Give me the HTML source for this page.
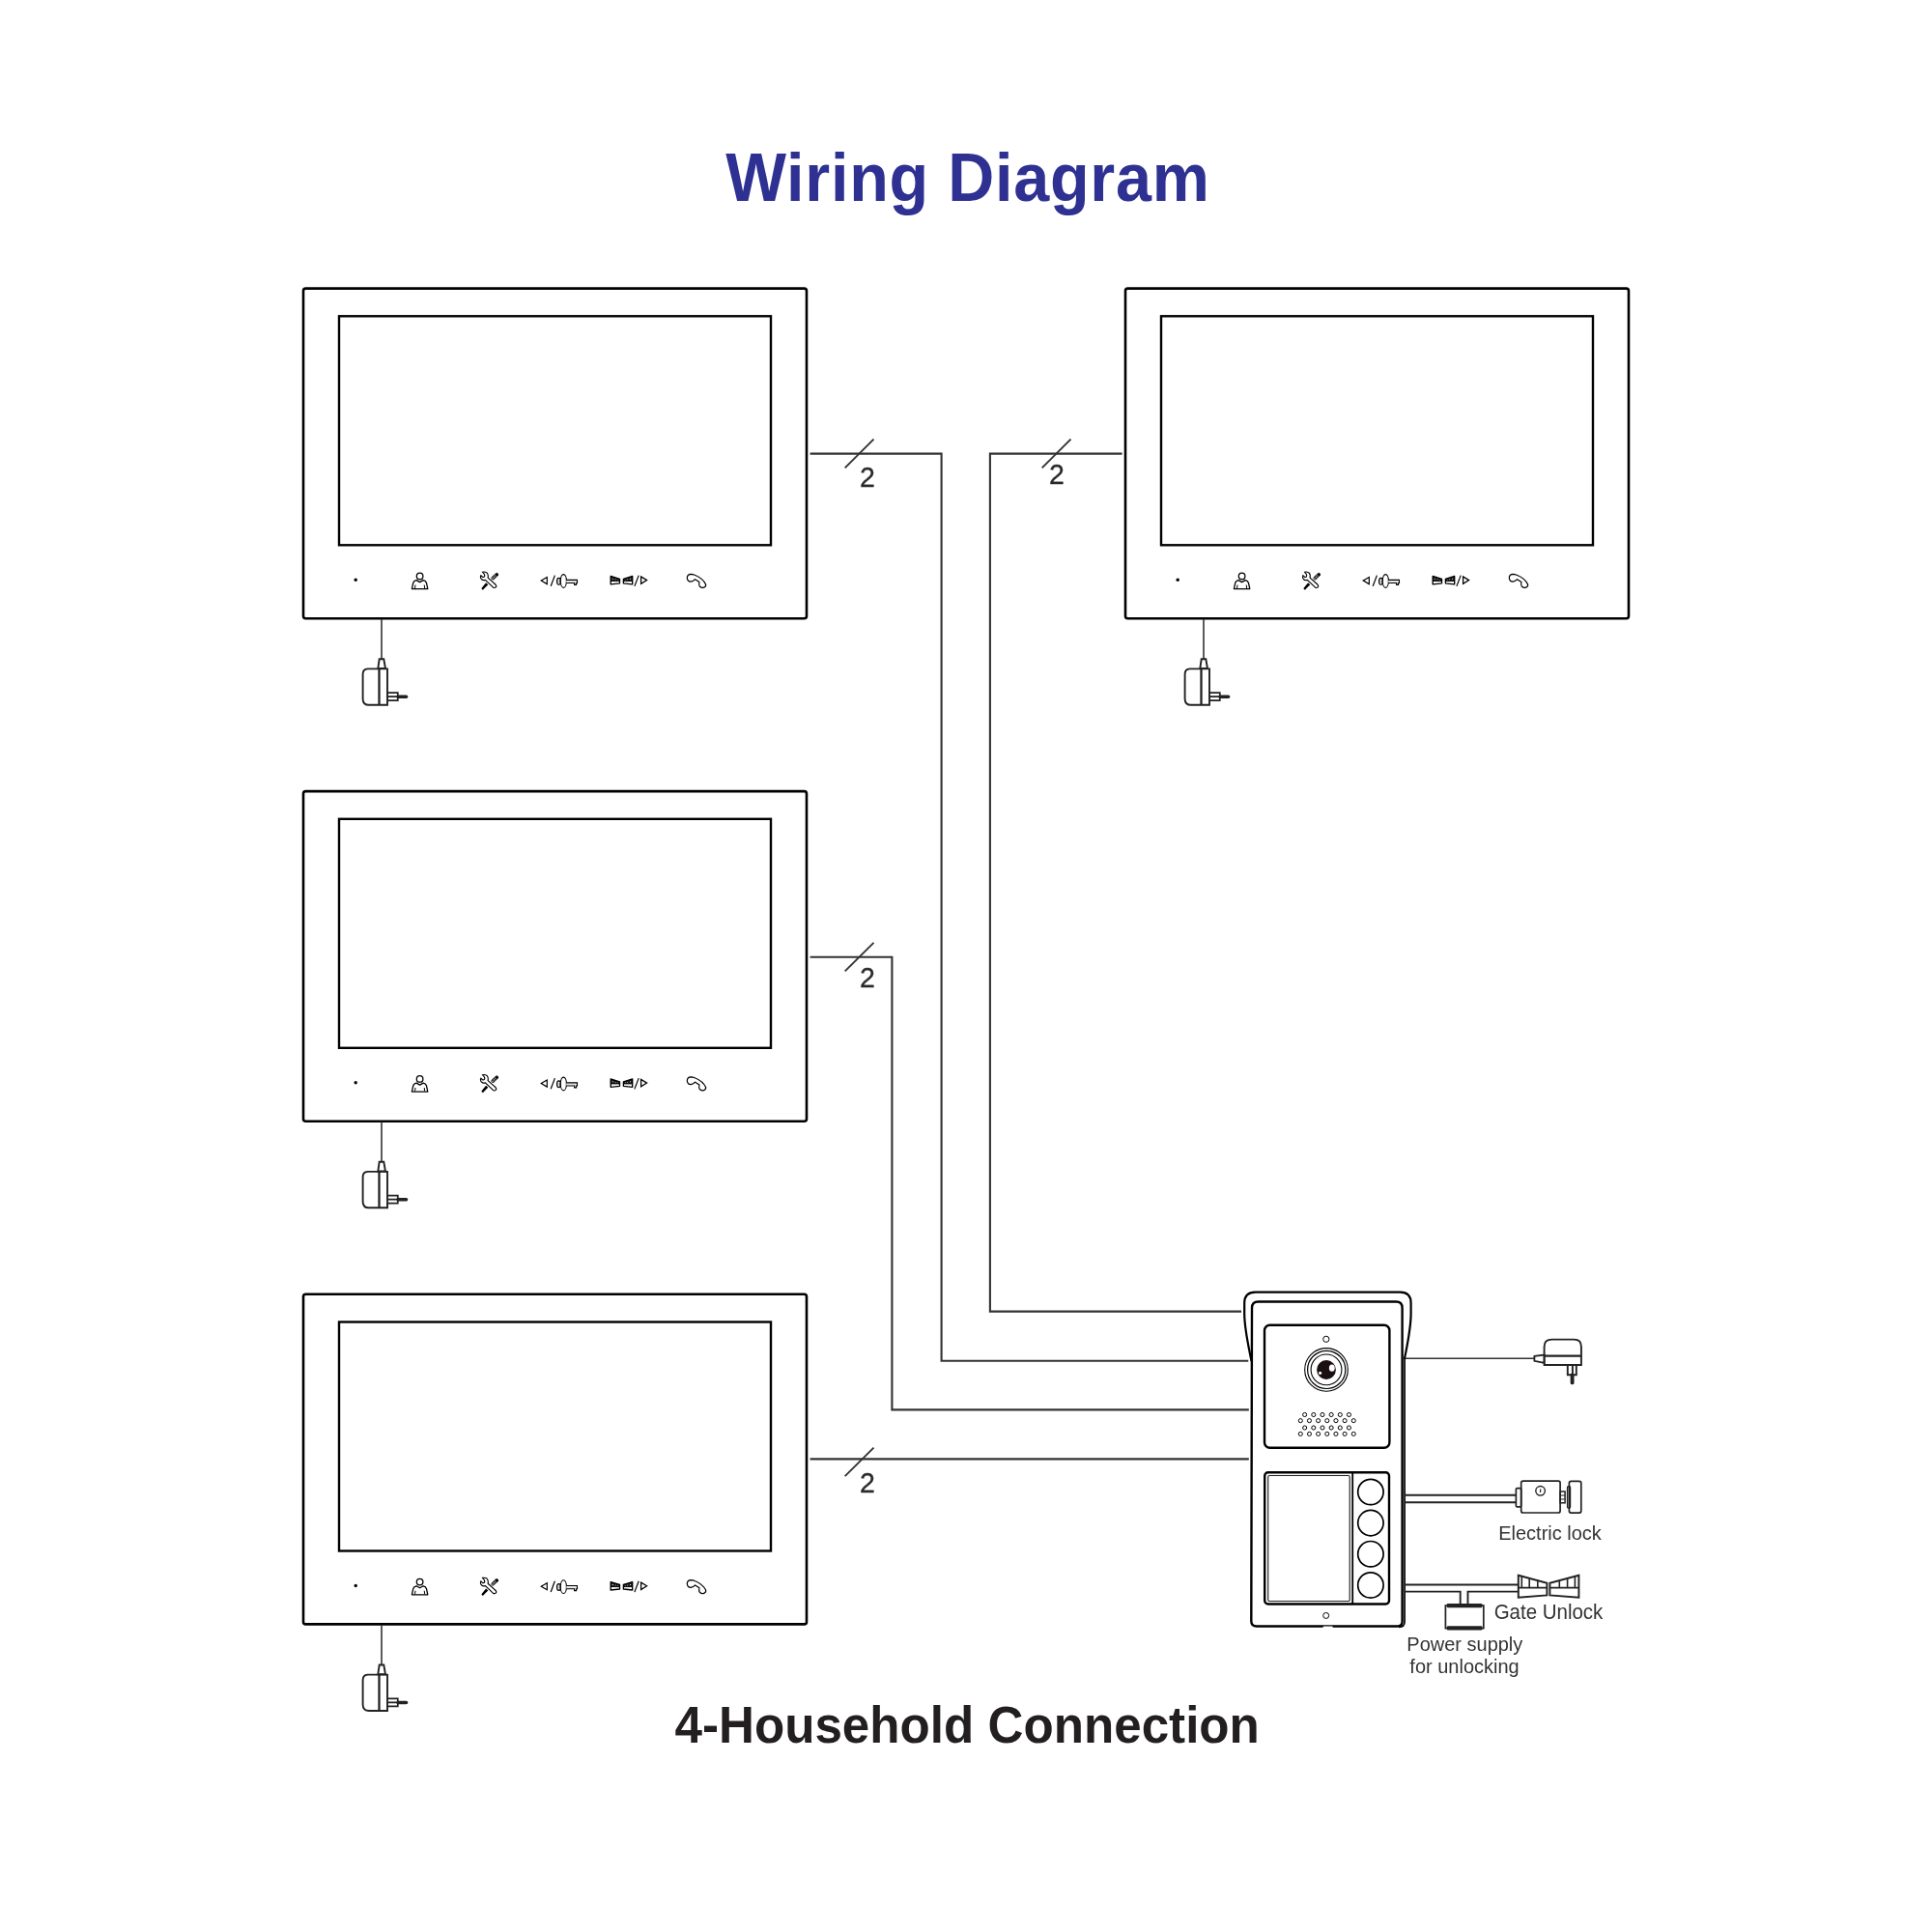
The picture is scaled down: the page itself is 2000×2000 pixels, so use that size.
<!DOCTYPE html>
<html><head><meta charset="utf-8"><title>Wiring Diagram</title>
<style>html,body{margin:0;padding:0;background:#fff;width:2000px;height:2000px;overflow:hidden;font-family:"Liberation Sans",sans-serif}body{position:relative}</style>
</head><body>
<svg width="2000" height="2000" viewBox="0 0 2000 2000" style="position:absolute;left:0;top:0;will-change:transform">
<defs><g id="mon">
<rect x="314" y="298.6" width="521" height="341.6" rx="2.5" fill="none" stroke="#000" stroke-width="2.6"/>
<rect x="351" y="327.3" width="447" height="237" fill="none" stroke="#000" stroke-width="2.4"/>
<circle cx="368.2" cy="600.3" r="1.7" fill="#000"/>
<circle cx="434.6" cy="596.4" r="3.3" fill="none" stroke="#000" stroke-width="1.3"/>
<path d="M426.4 609.6 L427.8 603.2 Q428.6 601.2 431 600.6 L434.6 602.6 L438.2 600.6 Q440.6 601.2 441.4 603.2 L442.8 609.6 Z" fill="none" stroke="#000" stroke-width="1.3" stroke-linejoin="round"/>
<path d="M430 605.5 L429.5 609 M439.2 605.5 L439.7 609" stroke="#000" stroke-width="1"/>
<path d="M510.2 598.6 L514.2 594.7" stroke="#2a2a2a" stroke-width="3.6" stroke-linecap="round"/>
<path d="M509.6 599.2 L513.2 595.6" stroke="#bbb" stroke-width="1.5" stroke-dasharray="1 1.1"/>
<circle cx="514.4" cy="595" r="1.3" fill="#000"/>
<path d="M498.3 609.3 L499.9 610.8 L502 608.6 L505.3 605.3 L503.1 603.2 L500.6 606.2 Z" fill="#000"/>
<path d="M497.8 595.6 L499.2 597 Q500.4 597.9 501.5 596.8 Q502.3 595.3 500.6 593.4 L499.4 592.2 Q501.8 591.6 504 592.9 Q505.8 594.6 505.1 598.1 L513.1 605.3 Q514.2 606.5 513.4 607.7 Q512.2 609 510.6 608.2 L502.4 600.4 Q500.2 601.2 498.6 599.8 Q496.8 598 497.8 595.6 Z" fill="#fff" stroke="#000" stroke-width="1.15" stroke-linejoin="round"/>
<path d="M560.2 601 L566.3 597.5 L566.3 604.6 Z" fill="none" stroke="#000" stroke-width="1.2" stroke-linejoin="miter"/>
<path d="M570.2 606.8 L574.4 595.6" stroke="#000" stroke-width="1.2"/>
<ellipse cx="578.5" cy="601.8" rx="2.0" ry="3.4" fill="#fff" stroke="#000" stroke-width="1.1"/>
<path d="M577.6 600.2 V603.4" stroke="#888" stroke-width="0.7"/>
<path d="M578.8 599.9 Q581.2 601.8 578.8 603.7 Z" fill="#444"/>
<ellipse cx="583.35" cy="601.45" rx="3.05" ry="6.9" fill="#fff" stroke="#000" stroke-width="1.15"/>
<path d="M586.3 600.35 H597.5 V603.55 H596.6 V605.4 H594.6 V603.55 H586.3" fill="#e6e6e6" stroke="#000" stroke-width="1.1"/>
<path d="M632.2 596.4 L641.5 599.3 V601.4 H632.2 Z" fill="#1a1a1a"/>
<circle cx="634.3000000000001" cy="599.2" r="0.55" fill="#fff"/><circle cx="637.2" cy="599.8" r="0.5" fill="#ddd"/><circle cx="639.5" cy="600.3" r="0.45" fill="#ccc"/>
<path d="M632.2 596.4 L641.5 599.3 V603.8 L632.2 604.8 Z" fill="none" stroke="#000" stroke-width="1.35" stroke-linejoin="round"/>
<path d="M632.2 601.4 H641.5" stroke="#000" stroke-width="1"/>
<path d="M654.7 596.4 L645.4000000000001 599.3 V601.4 H654.7 Z" fill="#1a1a1a"/>
<circle cx="652.6" cy="599.2" r="0.55" fill="#fff"/><circle cx="649.7" cy="599.8" r="0.5" fill="#ddd"/><circle cx="647.4000000000001" cy="600.3" r="0.45" fill="#ccc"/>
<path d="M654.7 596.4 L645.4000000000001 599.3 V603.8 L654.7 604.8 Z" fill="none" stroke="#000" stroke-width="1.35" stroke-linejoin="round"/>
<path d="M654.7 601.4 H645.4000000000001" stroke="#000" stroke-width="1"/>
<path d="M656.9 606.9 L661.2 595.6" stroke="#000" stroke-width="1.2"/>
<path d="M669.6 600.6 L663.6 596.9 L663.6 604.4 Z" fill="none" stroke="#000" stroke-width="1.3"/>
<path d="M715.3 594.4 Q711.3 594.6 711.3 598.4 Q711.8 602.2 715.3 602.1 Q717.8 601.8 719.6 599.7 L723.9 602.6 Q723.2 605.5 724.3 607 Q726.2 608.8 728.6 608.2 Q731.2 607 730.6 604.9 Q727.6 598.8 719.2 595.3 Q717.2 594.4 715.3 594.4 Z" fill="none" stroke="#000" stroke-width="1.2" stroke-linejoin="round"/>
<path d="M395 641 V682" stroke="#333" stroke-width="1.6"/>
<path d="M392.7 682.3 H397.3 L399 692 H391.3 Z" fill="none" stroke="#222" stroke-width="1.9"/>
<path d="M392.4 692.4 H380.6 Q375.6 692.8 375.6 698 V723.6 Q375.8 729.8 382 729.8 H401 V692.4 H392.4 Z" fill="none" stroke="#222" stroke-width="1.9"/>
<path d="M392.5 692.4 V729.8" stroke="#222" stroke-width="2.3"/>
<path d="M401 717.2 H411.8 V725.2 H401 M401 721.2 H411.8" fill="none" stroke="#222" stroke-width="1.7"/>
<path d="M412 721.3 H420.6" stroke="#222" stroke-width="3.4" stroke-linecap="round"/>
</g></defs>
<use href="#mon" transform="translate(0 0)"/>
<use href="#mon" transform="translate(851 0)"/>
<use href="#mon" transform="translate(0 520.5)"/>
<use href="#mon" transform="translate(0 1041.2)"/>
<g fill="none" stroke="#333" stroke-width="2.1">
<path d="M838.6 469.6 H974.6 V1408.7 H1292.3"/>
<path d="M1161.6 469.6 H1024.9 V1357.6 H1285"/>
<path d="M838.6 990.7 H923.4 V1459.4 H1292.8"/>
<path d="M838.6 1510.4 H1292.8"/>
</g>
<g font-family="&quot;Liberation Sans&quot;, sans-serif">
<path d="M874.7 484.3 L904.5 454.7" stroke="#333" stroke-width="1.9"/><text transform="translate(890.1 503.6) scale(1 1.03)" font-size="28.5" fill="#2a2a2a" stroke="#2a2a2a" stroke-width="0.3">2</text>
<path d="M1078.7 484.3 L1108.5 454.7" stroke="#333" stroke-width="1.9"/><text transform="translate(1085.9 500.7) scale(1 1.03)" font-size="28.5" fill="#2a2a2a" stroke="#2a2a2a" stroke-width="0.3">2</text>
<path d="M874.7 1005.4 L904.5 975.8" stroke="#333" stroke-width="1.9"/><text transform="translate(890.1 1021.7) scale(1 1.03)" font-size="28.5" fill="#2a2a2a" stroke="#2a2a2a" stroke-width="0.3">2</text>
<path d="M874.7 1528.2 L904.5 1498.6000000000001" stroke="#333" stroke-width="1.9"/><text transform="translate(890.1 1544.6) scale(1 1.03)" font-size="28.5" fill="#2a2a2a" stroke="#2a2a2a" stroke-width="0.3">2</text>
</g>
<path d="M1295.5 1409 C1291.5 1389 1288.2 1375 1288.2 1360 V1349 Q1288.2 1337.6 1299.5 1337.6 H1449.5 Q1460.6 1337.6 1460.6 1349 V1360 C1460.6 1375 1457.6 1388 1453.9 1407" fill="none" stroke="#000" stroke-width="2.2" stroke-linejoin="round"/>
<path d="M1296 1354 Q1296 1347.5 1302.5 1347.5 H1445.3 Q1451.6 1347.5 1451.6 1354 V1678.5 Q1451.6 1683.5 1446.6 1683.5 H1300.8 Q1295.3 1683.5 1295.3 1678 Z" fill="none" stroke="#000" stroke-width="2.4"/>
<path d="M1454.1 1405 V1678.5 Q1454.1 1684.4 1448 1684.4" fill="none" stroke="#000" stroke-width="1.7"/>
<rect x="1309" y="1371.8" width="129.4" height="127" rx="5.5" fill="none" stroke="#000" stroke-width="2.4"/>
<circle cx="1372.8" cy="1386.3" r="3.1" fill="none" stroke="#000" stroke-width="1"/>
<circle cx="1373" cy="1417.9" r="22.3" fill="none" stroke="#000" stroke-width="1.1"/>
<circle cx="1373.2" cy="1417.9" r="19.6" fill="none" stroke="#000" stroke-width="1.2"/>
<circle cx="1373" cy="1417.9" r="15.9" fill="none" stroke="#000" stroke-width="1.1"/>
<circle cx="1373" cy="1418" r="9.9" fill="#1a1012"/>
<ellipse cx="1378.8" cy="1416.2" rx="2.9" ry="3.6" fill="#fff"/>
<circle cx="1366.6" cy="1421.3" r="1.6" fill="#fff"/>
<g fill="none" stroke="#000" stroke-width="1"><circle cx="1350.65" cy="1464.5" r="2.05"/><circle cx="1359.81" cy="1464.5" r="2.05"/><circle cx="1368.97" cy="1464.5" r="2.05"/><circle cx="1378.13" cy="1464.5" r="2.05"/><circle cx="1387.29" cy="1464.5" r="2.05"/><circle cx="1396.45" cy="1464.5" r="2.05"/><circle cx="1346.30" cy="1470.65" r="2.05"/><circle cx="1355.46" cy="1470.65" r="2.05"/><circle cx="1364.62" cy="1470.65" r="2.05"/><circle cx="1373.78" cy="1470.65" r="2.05"/><circle cx="1382.94" cy="1470.65" r="2.05"/><circle cx="1392.10" cy="1470.65" r="2.05"/><circle cx="1401.26" cy="1470.65" r="2.05"/><circle cx="1350.65" cy="1478.0" r="2.05"/><circle cx="1359.81" cy="1478.0" r="2.05"/><circle cx="1368.97" cy="1478.0" r="2.05"/><circle cx="1378.13" cy="1478.0" r="2.05"/><circle cx="1387.29" cy="1478.0" r="2.05"/><circle cx="1396.45" cy="1478.0" r="2.05"/><circle cx="1346.30" cy="1484.4" r="2.05"/><circle cx="1355.46" cy="1484.4" r="2.05"/><circle cx="1364.62" cy="1484.4" r="2.05"/><circle cx="1373.78" cy="1484.4" r="2.05"/><circle cx="1382.94" cy="1484.4" r="2.05"/><circle cx="1392.10" cy="1484.4" r="2.05"/><circle cx="1401.26" cy="1484.4" r="2.05"/></g>
<rect x="1309.2" y="1524.3" width="128.8" height="136.2" rx="3.5" fill="none" stroke="#000" stroke-width="2.4"/>
<rect x="1312.7" y="1527.5" width="84.5" height="130" rx="1.6" fill="none" stroke="#222" stroke-width="1.15"/>
<path d="M1400.2 1525 V1660" stroke="#000" stroke-width="1.8"/>
<circle cx="1418.9" cy="1544.5" r="13.2" fill="none" stroke="#000" stroke-width="1.7"/>
<circle cx="1418.9" cy="1576.6" r="13.2" fill="none" stroke="#000" stroke-width="1.7"/>
<circle cx="1418.9" cy="1608.7" r="13.2" fill="none" stroke="#000" stroke-width="1.7"/>
<circle cx="1418.9" cy="1641.0" r="13.2" fill="none" stroke="#000" stroke-width="1.7"/>
<circle cx="1372.7" cy="1672.45" r="3" fill="none" stroke="#000" stroke-width="1"/>
<path d="M1369.2 1685.6 L1370 1683.4 H1379.3 L1380.1 1685.6 Z" fill="#fff"/>
<path d="M1455 1406.3 H1588.5" stroke="#333" stroke-width="1.5"/>
<path d="M1588.4 1403.8 L1598.6 1402.6 V1411 L1588.4 1408.8 Z" fill="none" stroke="#222" stroke-width="1.8"/>
<path d="M1598.6 1413 V1394 Q1598.6 1386.6 1606.5 1386.6 H1629.5 Q1636.9 1386.6 1636.9 1394 V1413 Z" fill="none" stroke="#222" stroke-width="1.9"/>
<path d="M1598.6 1403.6 H1636.9" stroke="#222" stroke-width="2.2"/>
<path d="M1622.8 1413 V1423.2 H1631.8 V1413 M1627.9 1413 V1423.2" fill="none" stroke="#222" stroke-width="1.9"/>
<path d="M1627.6 1423.5 V1431.4" stroke="#222" stroke-width="3.9" stroke-linecap="round"/>
<path d="M1454 1547.7 H1569.4 M1454 1555.3 H1569.4" stroke="#222" stroke-width="1.9"/>
<rect x="1569.4" y="1540.6" width="5.3" height="19.3" rx="1.2" fill="none" stroke="#222" stroke-width="1.7"/>
<rect x="1574.7" y="1533.2" width="40.4" height="32.8" rx="2" fill="none" stroke="#222" stroke-width="1.7"/>
<circle cx="1594.6" cy="1543.3" r="4.8" fill="none" stroke="#222" stroke-width="1.4"/>
<path d="M1594.6 1541.6 V1545" stroke="#222" stroke-width="1.2"/>
<rect x="1615.1" y="1544" width="5" height="11.8" fill="none" stroke="#222" stroke-width="1.5"/>
<path d="M1615.1 1548 H1620.1 M1615.1 1552 H1620.1" stroke="#222" stroke-width="1"/>
<rect x="1624.4" y="1533.4" width="12.4" height="32.7" rx="2" fill="none" stroke="#222" stroke-width="1.7"/>
<rect x="1622.6" y="1538.8" width="2.9" height="22.2" rx="1" fill="none" stroke="#222" stroke-width="1.4"/>
<path d="M1454 1640.5 H1571.6" stroke="#222" stroke-width="1.9"/>
<path d="M1454 1647.6 H1511.7 V1661 M1519.5 1661 V1647.6 H1571.6" fill="none" stroke="#222" stroke-width="1.9"/>
<rect x="1496.4" y="1662" width="39.4" height="23.6" fill="none" stroke="#222" stroke-width="1.7"/>
<rect x="1497.8" y="1660" width="36.6" height="4.3" rx="1" fill="#222"/>
<rect x="1497.8" y="1683.2" width="36.6" height="4.3" rx="1" fill="#222"/>
<path d="M1571.8 1630.7 L1601.4 1638.7 V1651.4 L1571.8 1653.6 Z" fill="none" stroke="#222" stroke-width="1.95"/>
<path d="M1571.8 1643.6 H1601.4 M1575.3 1632 V1643.6 M1583.2 1633.3 V1643.6 M1591.8 1635.7 V1643.6" stroke="#222" stroke-width="1.6"/>
<path d="M1634.4 1630.7 L1604.4 1638.7 V1651.4 L1634.4 1653.6 Z" fill="none" stroke="#222" stroke-width="1.95"/>
<path d="M1604.4 1643.6 H1634.4 M1630.4 1632 V1643.6 M1622.6 1633.3 V1643.6 M1614.3 1635.7 V1643.6" stroke="#222" stroke-width="1.6"/>
<g font-family="&quot;Liberation Sans&quot;, sans-serif">
<text transform="translate(751.13 207.8) scale(1.0 1.055)" font-size="66.52" font-weight="bold" fill="#2e3192" text-anchor="start" letter-spacing="0.76">Wiring Diagram</text>
<text transform="translate(698.47 1803.8) scale(1.0 1.041)" font-size="51.17" font-weight="bold" fill="#231f20" text-anchor="start">4-Household Connection</text>
<text transform="translate(1604.5 1593.9) scale(1.0 1.041)" font-size="20" fill="#333" text-anchor="middle">Electric lock</text>
<text transform="translate(1603.0 1675.8) scale(1.0 1.041)" font-size="20.5" fill="#333" text-anchor="middle">Gate Unlock</text>
<text transform="translate(1516.3 1708.9) scale(1.0 1.041)" font-size="20" fill="#333" text-anchor="middle">Power supply</text>
<text transform="translate(1516.0 1731.9) scale(1.0 1.041)" font-size="20" fill="#333" text-anchor="middle">for unlocking</text>
</g>
</svg>
</body></html>
